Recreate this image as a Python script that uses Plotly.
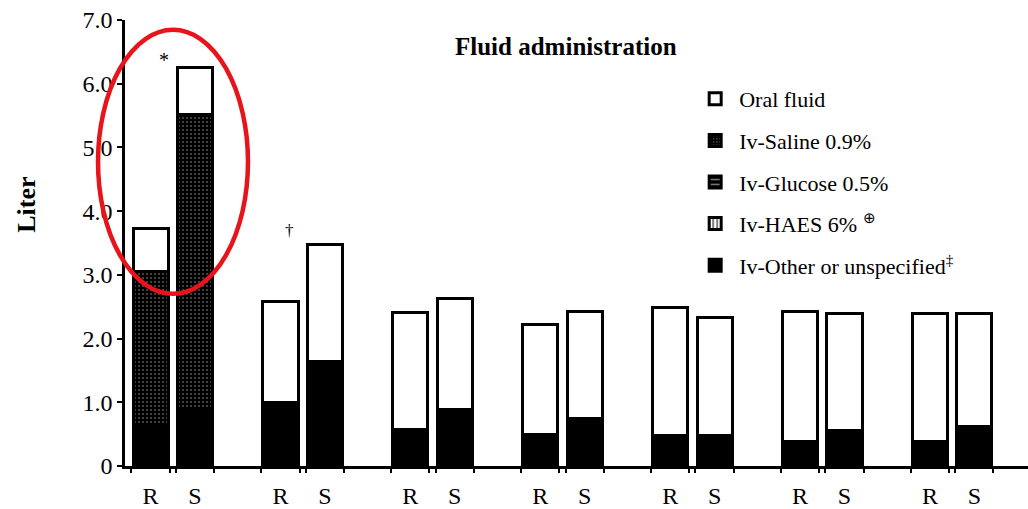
import plotly.graph_objects as go

# Seven time points, each with an R and an S bar
groups = [0, 1, 2, 3, 4, 5, 6]
arms = ["R", "S"]

# Volumes in litres, stacked bottom to top: other, saline, glucose, HAES, oral
other_R = [0.65, 1.00, 0.58, 0.49, 0.48, 0.39, 0.39]
other_S = [0.90, 1.64, 0.88, 0.75, 0.48, 0.55, 0.62]
saline_R = [2.40, 0, 0, 0, 0, 0, 0]
saline_S = [4.62, 0, 0, 0, 0, 0, 0]
glucose_R = [0, 0, 0, 0, 0, 0, 0]
glucose_S = [0, 0, 0, 0, 0, 0, 0]
haes_R = [0, 0, 0, 0, 0, 0, 0]
haes_S = [0, 0, 0, 0, 0, 0, 0]
oral_R = [0.68, 1.58, 1.83, 1.73, 2.00, 2.03, 2.00]
oral_S = [0.73, 1.83, 1.75, 1.67, 1.85, 1.84, 1.77]

y_ticks = [0, 1, 2, 3, 4, 5, 6, 7]
y_ticktext = ["0", "1.0", "2.0", "3.0", "4.0", "5.0", "6.0", "7.0"]

SHIFT = 0.171   # half distance between R and S bar centres
BAR_W = 0.27
SERIF = "Liberation Serif"

x_R = [g - SHIFT for g in groups]
x_S = [g + SHIFT for g in groups]
xs = x_R + x_S
labels = [arms[0]] * len(groups) + [arms[1]] * len(groups)

fig = go.Figure()


def add(name, vr, vs, color, rank, pattern=None):
    marker = dict(color=color, line=dict(color="black", width=3))
    if pattern:
        marker["pattern"] = pattern
    fig.add_trace(go.Bar(
        x=xs, y=vr + vs, name=name, width=BAR_W, marker=marker,
        legendgroup=name, legendrank=rank, hoverinfo="skip",
    ))


add("Iv-Other or unspecified<sup>‡</sup>", other_R, other_S, "black", 5)
add("Iv-Saline 0.9%", saline_R, saline_S, "black", 2,
    dict(shape=".", fgcolor="#aaaaaa", bgcolor="black", size=4, solidity=0.2))
add("Iv-Glucose 0.5%", glucose_R, glucose_S, "black", 3,
    dict(shape="-", fgcolor="white", bgcolor="black", size=6, solidity=0.3))
add("Iv-HAES 6% <sup>⊕</sup>", haes_R, haes_S, "white", 4,
    dict(shape="|", fgcolor="black", bgcolor="white", size=5, solidity=0.5))
add("Oral fluid", oral_R, oral_S, "white", 1)

edges = sorted([x - BAR_W / 2 - 0.012 for x in xs] + [x + BAR_W / 2 + 0.012 for x in xs])

fig.update_layout(
    width=1028, height=509,
    barmode="stack",
    plot_bgcolor="white", paper_bgcolor="white",
    margin=dict(l=125, r=0, t=20, b=41),
    font=dict(family=SERIF, color="black"),
    showlegend=True,
    legend=dict(
        x=0.627, y=0.87, xanchor="left", yanchor="top",
        traceorder="grouped", tracegroupgap=10,
        font=dict(family=SERIF, size=22, color="black"),
        bgcolor="rgba(0,0,0,0)", itemwidth=38,
    ),
    xaxis=dict(
        range=[-0.368, 6.584], showgrid=False, zeroline=False,
        showline=True, linecolor="black", linewidth=2.5,
        tickmode="array", tickvals=xs, ticktext=labels,
        ticks="", tickfont=dict(family=SERIF, size=24, color="black"),
        ticklabelstandoff=6,
        minor=dict(tickmode="array", tickvals=edges, ticks="outside",
                   ticklen=4, tickwidth=2, tickcolor="black"),
    ),
    yaxis=dict(
        range=[0, 7], showgrid=False, zeroline=False,
        showline=True, linecolor="black", linewidth=2.5,
        tickmode="array", tickvals=y_ticks, ticktext=y_ticktext,
        ticks="outside", ticklen=5, tickwidth=2, tickcolor="black",
        tickfont=dict(family=SERIF, size=24, color="black"),
    ),
    annotations=[
        dict(text="<b>Fluid administration</b>", xref="paper", yref="paper",
             x=0.488, y=0.94, xanchor="center", yanchor="middle",
             showarrow=False, font=dict(family=SERIF, size=25, color="black")),
        dict(text="<b>Liter</b>", xref="paper", yref="paper",
             x=-0.11, y=0.585, xanchor="center", yanchor="middle",
             textangle=-90, showarrow=False,
             font=dict(family=SERIF, size=26, color="black")),
        dict(text="*", xref="x", yref="y", x=-0.07, y=6.37,
             showarrow=False, font=dict(family=SERIF, size=20, color="black")),
        dict(text="†", xref="x", yref="y", x=0.9, y=3.69,
             showarrow=False, font=dict(family=SERIF, size=17, color="black")),
    ],
    shapes=[
        dict(type="circle", xref="paper", yref="paper",
             x0=-0.0299, x1=0.1362, y0=0.386, y1=0.978,
             line=dict(color="#e8141b", width=4.5), layer="above"),
    ],
)

fig.write_html("out.html")
